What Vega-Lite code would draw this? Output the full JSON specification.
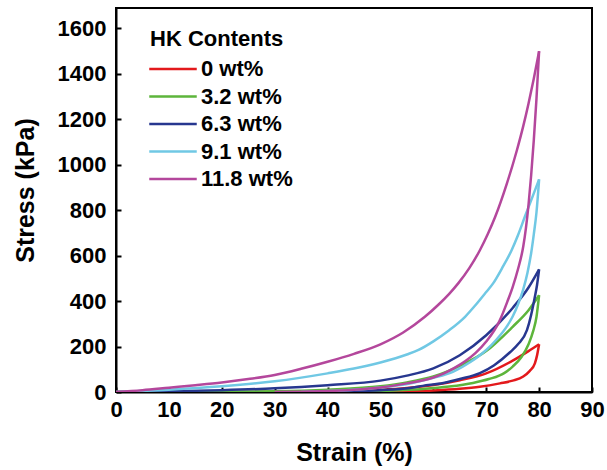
{
  "$schema": "https://vega.github.io/schema/vega-lite/v6.json",
  "width": 476,
  "height": 384,
  "autosize": {"type": "none"},
  "padding": {"left": 116, "top": 8, "right": 15, "bottom": 78},
  "background": "white",
  "config": {
    "font": "Liberation Sans",
    "view": {"stroke": "black", "strokeWidth": 2},
    "axis": {
      "domainColor": "black", "domainWidth": 2,
      "tickColor": "black", "tickWidth": 2, "tickSize": -5,
      "labelFont": "Liberation Sans", "labelFontWeight": "bold", "labelFontSize": 22, "labelColor": "black", "labelFlush": false,
      "titleFont": "Liberation Sans", "titleFontWeight": "bold", "titleFontSize": 25, "titleColor": "black",
      "grid": false
    },
    "legend": {
      "orient": "none", "legendX": 34, "legendY": 21,
      "titleFont": "Liberation Sans", "titleFontSize": 22, "titleFontWeight": "bold", "titleColor": "black", "titlePadding": 7,
      "labelFont": "Liberation Sans", "labelFontSize": 22, "labelFontWeight": "bold", "labelColor": "black",
      "symbolType": "M-2.5,0H2.5", "symbolSize": 361, "symbolStrokeWidth": 2.5, "symbolOffset": 12,
      "labelOffset": 17, "rowPadding": 5.5
    }
  },
  "data": {"values": [
    {"s":"0 wt%","b":"u","x":0,"y":0},{"s":"0 wt%","b":"u","x":30,"y":0.5},{"s":"0 wt%","b":"u","x":40,"y":3},{"s":"0 wt%","b":"u","x":50,"y":10},{"s":"0 wt%","b":"u","x":55,"y":18},{"s":"0 wt%","b":"u","x":60,"y":31},{"s":"0 wt%","b":"u","x":65,"y":52},{"s":"0 wt%","b":"u","x":70,"y":82},{"s":"0 wt%","b":"u","x":75,"y":138},{"s":"0 wt%","b":"u","x":78,"y":180},{"s":"0 wt%","b":"u","x":80,"y":210},
    {"s":"0 wt%","b":"l","x":80,"y":210},{"s":"0 wt%","b":"l","x":79.6,"y":160},{"s":"0 wt%","b":"l","x":79.2,"y":126},{"s":"0 wt%","b":"l","x":78.2,"y":92},{"s":"0 wt%","b":"l","x":77,"y":68},{"s":"0 wt%","b":"l","x":75,"y":50},{"s":"0 wt%","b":"l","x":72.6,"y":38},{"s":"0 wt%","b":"l","x":68.8,"y":23},{"s":"0 wt%","b":"l","x":65,"y":14},{"s":"0 wt%","b":"l","x":60,"y":7},{"s":"0 wt%","b":"l","x":55,"y":3},{"s":"0 wt%","b":"l","x":50,"y":0},

    {"s":"3.2 wt%","b":"u","x":0,"y":0},{"s":"3.2 wt%","b":"u","x":20,"y":1},{"s":"3.2 wt%","b":"u","x":30,"y":3},{"s":"3.2 wt%","b":"u","x":40,"y":10},{"s":"3.2 wt%","b":"u","x":50,"y":25},{"s":"3.2 wt%","b":"u","x":55,"y":42},{"s":"3.2 wt%","b":"u","x":60,"y":68},{"s":"3.2 wt%","b":"u","x":65,"y":115},{"s":"3.2 wt%","b":"u","x":70,"y":180},{"s":"3.2 wt%","b":"u","x":75,"y":287},{"s":"3.2 wt%","b":"u","x":78,"y":360},{"s":"3.2 wt%","b":"u","x":80,"y":426},
    {"s":"3.2 wt%","b":"l","x":80,"y":426},{"s":"3.2 wt%","b":"l","x":79.5,"y":330},{"s":"3.2 wt%","b":"l","x":78.9,"y":270},{"s":"3.2 wt%","b":"l","x":78,"y":210},{"s":"3.2 wt%","b":"l","x":76.7,"y":155},{"s":"3.2 wt%","b":"l","x":75,"y":112},{"s":"3.2 wt%","b":"l","x":73.4,"y":83},{"s":"3.2 wt%","b":"l","x":70.5,"y":57},{"s":"3.2 wt%","b":"l","x":67.5,"y":40},{"s":"3.2 wt%","b":"l","x":63,"y":24},{"s":"3.2 wt%","b":"l","x":58,"y":13},{"s":"3.2 wt%","b":"l","x":50,"y":4},{"s":"3.2 wt%","b":"l","x":45,"y":0},

    {"s":"6.3 wt%","b":"u","x":0,"y":0},{"s":"6.3 wt%","b":"u","x":10,"y":3},{"s":"6.3 wt%","b":"u","x":20,"y":8},{"s":"6.3 wt%","b":"u","x":30,"y":16},{"s":"6.3 wt%","b":"u","x":40,"y":30},{"s":"6.3 wt%","b":"u","x":50,"y":50},{"s":"6.3 wt%","b":"u","x":55,"y":72},{"s":"6.3 wt%","b":"u","x":60,"y":104},{"s":"6.3 wt%","b":"u","x":65,"y":162},{"s":"6.3 wt%","b":"u","x":70,"y":250},{"s":"6.3 wt%","b":"u","x":75,"y":370},{"s":"6.3 wt%","b":"u","x":78,"y":460},{"s":"6.3 wt%","b":"u","x":80,"y":540},
    {"s":"6.3 wt%","b":"l","x":80,"y":540},{"s":"6.3 wt%","b":"l","x":79.6,"y":470},{"s":"6.3 wt%","b":"l","x":79.2,"y":419},{"s":"6.3 wt%","b":"l","x":78.5,"y":340},{"s":"6.3 wt%","b":"l","x":77.7,"y":272},{"s":"6.3 wt%","b":"l","x":76,"y":210},{"s":"6.3 wt%","b":"l","x":74.5,"y":175},{"s":"6.3 wt%","b":"l","x":71.5,"y":118},{"s":"6.3 wt%","b":"l","x":68.8,"y":83},{"s":"6.3 wt%","b":"l","x":65,"y":57},{"s":"6.3 wt%","b":"l","x":61.9,"y":40},{"s":"6.3 wt%","b":"l","x":58,"y":27},{"s":"6.3 wt%","b":"l","x":55.6,"y":18},{"s":"6.3 wt%","b":"l","x":50,"y":8},{"s":"6.3 wt%","b":"l","x":45,"y":3},{"s":"6.3 wt%","b":"l","x":40,"y":0},

    {"s":"9.1 wt%","b":"u","x":0,"y":0},{"s":"9.1 wt%","b":"u","x":10,"y":10},{"s":"9.1 wt%","b":"u","x":20,"y":25},{"s":"9.1 wt%","b":"u","x":30,"y":47},{"s":"9.1 wt%","b":"u","x":40,"y":82},{"s":"9.1 wt%","b":"u","x":45,"y":103},{"s":"9.1 wt%","b":"u","x":50,"y":130},{"s":"9.1 wt%","b":"u","x":55,"y":165},{"s":"9.1 wt%","b":"u","x":57.2,"y":185},{"s":"9.1 wt%","b":"u","x":60,"y":223},{"s":"9.1 wt%","b":"u","x":63,"y":272},{"s":"9.1 wt%","b":"u","x":66,"y":331},{"s":"9.1 wt%","b":"u","x":68,"y":383},{"s":"9.1 wt%","b":"u","x":70,"y":440},{"s":"9.1 wt%","b":"u","x":71.3,"y":478},{"s":"9.1 wt%","b":"u","x":73,"y":545},{"s":"9.1 wt%","b":"u","x":74.8,"y":624},{"s":"9.1 wt%","b":"u","x":76,"y":690},{"s":"9.1 wt%","b":"u","x":77.3,"y":771},{"s":"9.1 wt%","b":"u","x":78.6,"y":850},{"s":"9.1 wt%","b":"u","x":80,"y":936},
    {"s":"9.1 wt%","b":"l","x":80,"y":936},{"s":"9.1 wt%","b":"l","x":79.5,"y":790},{"s":"9.1 wt%","b":"l","x":79,"y":695},{"s":"9.1 wt%","b":"l","x":78.5,"y":612},{"s":"9.1 wt%","b":"l","x":77.8,"y":525},{"s":"9.1 wt%","b":"l","x":77,"y":452},{"s":"9.1 wt%","b":"l","x":76,"y":385},{"s":"9.1 wt%","b":"l","x":75,"y":332},{"s":"9.1 wt%","b":"l","x":74,"y":292},{"s":"9.1 wt%","b":"l","x":72,"y":232},{"s":"9.1 wt%","b":"l","x":70,"y":185},{"s":"9.1 wt%","b":"l","x":67,"y":132},{"s":"9.1 wt%","b":"l","x":63.8,"y":90},{"s":"9.1 wt%","b":"l","x":60,"y":62},{"s":"9.1 wt%","b":"l","x":56,"y":40},{"s":"9.1 wt%","b":"l","x":50,"y":20},{"s":"9.1 wt%","b":"l","x":45,"y":10},{"s":"9.1 wt%","b":"l","x":40,"y":4},{"s":"9.1 wt%","b":"l","x":35,"y":0},

    {"s":"11.8 wt%","b":"u","x":0,"y":0},{"s":"11.8 wt%","b":"u","x":5,"y":8},{"s":"11.8 wt%","b":"u","x":10,"y":19},{"s":"11.8 wt%","b":"u","x":15,"y":30},{"s":"11.8 wt%","b":"u","x":20,"y":42},{"s":"11.8 wt%","b":"u","x":25,"y":57},{"s":"11.8 wt%","b":"u","x":30,"y":75},{"s":"11.8 wt%","b":"u","x":35,"y":102},{"s":"11.8 wt%","b":"u","x":40,"y":133},{"s":"11.8 wt%","b":"u","x":45,"y":168},{"s":"11.8 wt%","b":"u","x":50,"y":210},{"s":"11.8 wt%","b":"u","x":54.3,"y":262},{"s":"11.8 wt%","b":"u","x":58.4,"y":331},{"s":"11.8 wt%","b":"u","x":61,"y":385},{"s":"11.8 wt%","b":"u","x":63,"y":432},{"s":"11.8 wt%","b":"u","x":64.7,"y":478},{"s":"11.8 wt%","b":"u","x":66.8,"y":545},{"s":"11.8 wt%","b":"u","x":68.8,"y":624},{"s":"11.8 wt%","b":"u","x":70.3,"y":695},{"s":"11.8 wt%","b":"u","x":71.7,"y":771},{"s":"11.8 wt%","b":"u","x":73.9,"y":917},{"s":"11.8 wt%","b":"u","x":75.8,"y":1064},{"s":"11.8 wt%","b":"u","x":77,"y":1170},{"s":"11.8 wt%","b":"u","x":78,"y":1270},{"s":"11.8 wt%","b":"u","x":79,"y":1380},{"s":"11.8 wt%","b":"u","x":80,"y":1500},
    {"s":"11.8 wt%","b":"l","x":80,"y":1500},{"s":"11.8 wt%","b":"l","x":79.5,"y":1290},{"s":"11.8 wt%","b":"l","x":79,"y":1110},{"s":"11.8 wt%","b":"l","x":78.5,"y":955},{"s":"11.8 wt%","b":"l","x":78,"y":825},{"s":"11.8 wt%","b":"l","x":77.5,"y":720},{"s":"11.8 wt%","b":"l","x":77,"y":640},{"s":"11.8 wt%","b":"l","x":76,"y":540},{"s":"11.8 wt%","b":"l","x":75,"y":462},{"s":"11.8 wt%","b":"l","x":74,"y":398},{"s":"11.8 wt%","b":"l","x":72.5,"y":312},{"s":"11.8 wt%","b":"l","x":70,"y":222},{"s":"11.8 wt%","b":"l","x":68,"y":172},{"s":"11.8 wt%","b":"l","x":66,"y":135},{"s":"11.8 wt%","b":"l","x":64,"y":106},{"s":"11.8 wt%","b":"l","x":62,"y":82},{"s":"11.8 wt%","b":"l","x":60,"y":64},{"s":"11.8 wt%","b":"l","x":55,"y":38},{"s":"11.8 wt%","b":"l","x":50,"y":20},{"s":"11.8 wt%","b":"l","x":45,"y":10},{"s":"11.8 wt%","b":"l","x":40,"y":4},{"s":"11.8 wt%","b":"l","x":35,"y":1},{"s":"11.8 wt%","b":"l","x":30,"y":0}
  ]},
  "mark": {"type": "line", "strokeWidth": 2.5, "interpolate": "monotone", "clip": true},
  "encoding": {
    "x": {"field": "x", "type": "quantitative", "title": "Strain (%)",
      "scale": {"domain": [0, 90], "nice": false},
      "axis": {"values": [0,10,20,30,40,50,60,70,80,90], "labelPadding": 12, "titleY": 60, "titleBaseline": "middle"}},
    "y": {"field": "y", "type": "quantitative", "title": "Stress (kPa)",
      "scale": {"domain": [0, 1690], "nice": false},
      "axis": {"values": [0,200,400,600,800,1000,1200,1400,1600], "format": "d", "labelPadding": 15, "titleX": -91, "titleY": 182, "titleAngle": -90, "titleAlign": "center", "titleBaseline": "middle"}},
    "color": {"field": "s", "type": "nominal", "title": "HK Contents",
      "scale": {"domain": ["0 wt%","3.2 wt%","6.3 wt%","9.1 wt%","11.8 wt%"], "range": ["#e3191c","#5db53b","#27378f","#70c8e4","#b4479c"]}},
    "detail": {"field": "b", "type": "nominal"},
    "order": {"field": "x", "type": "quantitative"}
  }
}
